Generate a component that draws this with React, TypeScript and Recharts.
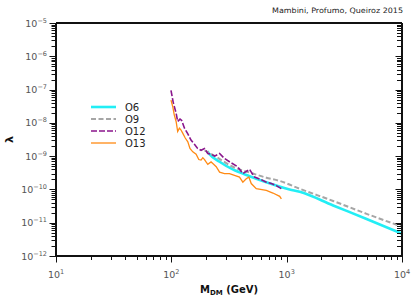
import React from 'react';
import { LineChart, Line, XAxis, YAxis, Legend, Label } from 'recharts';

// ---- data ----
const o6Mass = [205, 214, 262, 341, 477, 666, 1060, 1297, 2530, 4930, 10000];
const o6Lambda = [1.4e-9, 1.15e-9, 6.8e-10, 4.0e-10, 2.5e-10, 1.65e-10, 1.0e-10, 8.5e-11, 3.3e-11, 1.3e-11, 4.7e-12];

const o9Mass = [194, 245, 341, 510, 666, 870, 1297, 2530, 4930, 10000];
const o9Lambda = [1.5e-9, 9.5e-10, 4.8e-10, 3.0e-10, 2.25e-10, 1.8e-10, 1.05e-10, 4.5e-11, 1.85e-11, 7.6e-12];

const o12Mass = [99.3, 104, 110, 113.5, 119, 123, 130, 139, 148, 158, 169, 181, 194, 207, 221, 237, 262, 289, 330, 376, 417, 477, 502, 528, 604, 666, 736, 813, 900];
const o12Lambda = [9.5e-8, 4.0e-8, 1.95e-8, 1.1e-8, 1.29e-8, 1.18e-8, 6.9e-9, 4.7e-9, 3.05e-9, 2.3e-9, 1.7e-9, 1.5e-9, 1.7e-9, 1.2e-9, 1.15e-9, 1.0e-9, 1.2e-9, 8.5e-10, 6.3e-10, 4.8e-10, 3.0e-10, 4.0e-10, 3.0e-10, 2.35e-10, 1.95e-10, 1.65e-10, 1.5e-10, 1.3e-10, 1.05e-10];

const o13Mass = [99.3, 102.8, 106, 110, 113.5, 117.5, 121, 125.5, 132, 139, 145, 153.5, 164, 173, 181, 187.5, 194, 200, 207, 221, 229, 245, 262, 289, 319, 353, 390, 417, 446, 470, 493, 545, 666, 760, 870, 900];
const o13Lambda = [4.8e-8, 3.1e-8, 1.74e-8, 1.1e-8, 5.5e-9, 6.9e-9, 6.2e-9, 4.9e-9, 3.5e-9, 2.7e-9, 1.7e-9, 1.35e-9, 1.15e-9, 7.9e-10, 7.6e-10, 9.0e-10, 7.9e-10, 6.7e-10, 5.7e-10, 6.7e-10, 6.0e-10, 4.8e-10, 3.3e-10, 3.0e-10, 3.0e-10, 2.65e-10, 2.35e-10, 1.65e-10, 2.1e-10, 2.35e-10, 1.5e-10, 1.05e-10, 9.3e-11, 7.8e-11, 6.2e-11, 5.2e-11];

const seriesNames = ['O6', 'O9', 'O12', 'O13'];

const xMajorTicks = [10, 100, 1000, 10000];
const xDecades = [10, 100, 1000];
const yMajorTicks = [1e-12, 1e-11, 1e-10, 1e-9, 1e-8, 1e-7, 1e-6, 1e-5];
const yDecades = [1e-12, 1e-11, 1e-10, 1e-9, 1e-8, 1e-7, 1e-6];
const minorFactors = [2, 3, 4, 5, 6, 7, 8, 9];

const titleText = 'Mambini, Profumo, Queiroz 2015';

// ---- helpers ----
const toRows = (m: number[], l: number[]) => m.map((x, i) => ({ x, y: l[i] }));
const o6Rows = toRows(o6Mass, o6Lambda);
const o9Rows = toRows(o9Mass, o9Lambda);
const o12Rows = toRows(o12Mass, o12Lambda);
const o13Rows = toRows(o13Mass, o13Lambda);

const byValue = (a: number, b: number) => a - b;
const xAllTicks = [...xMajorTicks, ...xDecades.flatMap((d) => minorFactors.map((f) => d * f))].sort(byValue);
const yAllTicks = [...yMajorTicks, ...yDecades.flatMap((d) => minorFactors.map((f) => d * f))].sort(byValue);

const isMajor = (v: number) => {
  const lg = Math.log10(v);
  return Math.abs(lg - Math.round(lg)) < 1e-6;
};
const expOf = (v: number) => Math.round(Math.log10(v));
const expText = (e: number) => (e < 0 ? '\u2212' + Math.abs(e) : String(e));

const FONT = 'DejaVu Sans';
const TICK_COLOR = '#111';
const LABEL_COLOR = '#555';

const styles = [
  { name: seriesNames[0], color: '#22eef5', width: 2.6, dash: undefined as string | undefined },
  { name: seriesNames[1], color: '#a6a6a6', width: 2, dash: '5 2.5' },
  { name: seriesNames[2], color: '#8a168c', width: 1.6, dash: '6 2' },
  { name: seriesNames[3], color: '#ff8a14', width: 1.3, dash: undefined as string | undefined },
];

// with tickSize=0 and tickMargin=0 the tick's x/y is the point on the axis line
const LeftTick = (props: any) => {
  const { x, y, payload } = props;
  const v = payload.value;
  const major = isMajor(v);
  const yy = Math.round(y) + 0.5;
  return (
    <g>
      <line x1={x} x2={x - (major ? 6.5 : 4.5)} y1={yy} y2={yy} stroke={TICK_COLOR} strokeWidth={1} />
      {major && (
        <text x={x - 9} y={y + 3.5} textAnchor="end" fontSize={9.5} fill={LABEL_COLOR} fontFamily={FONT}>
          10
          <tspan dy={-4} fontSize={6.5}>{expText(expOf(v))}</tspan>
        </text>
      )}
    </g>
  );
};

const RightTick = (props: any) => {
  const { x, y, payload } = props;
  const major = isMajor(payload.value);
  const yy = Math.round(y) + 0.5;
  return <line x1={x} x2={x - (major ? 6.5 : 5)} y1={yy} y2={yy} stroke={TICK_COLOR} strokeWidth={1} />;
};

const BottomTick = (props: any) => {
  const { x, y, payload } = props;
  const v = payload.value;
  const major = isMajor(v);
  const xx = Math.round(x) + 0.5;
  return (
    <g>
      <line x1={xx} x2={xx} y1={y} y2={y + (major ? 6.5 : 4)} stroke={TICK_COLOR} strokeWidth={1} />
      {major && (
        <text x={x} y={y + 22} textAnchor="middle" fontSize={9.5} fill={LABEL_COLOR} fontFamily={FONT}>
          10
          <tspan dy={-4} fontSize={6.5}>{expText(expOf(v))}</tspan>
        </text>
      )}
    </g>
  );
};

const XLabel = (props: any) => {
  const vb = props.viewBox || { x: 56, y: 256, width: 346, height: 47 };
  return (
    <text x={vb.x + vb.width / 2} y={vb.y + 36.5} textAnchor="middle" fontSize={10} fontWeight="bold" fill="#111" fontFamily={FONT}>
      M
      <tspan fontSize={7} dy={2}>DM</tspan>
      <tspan dy={-2}> (GeV)</tspan>
    </text>
  );
};

const YLabel = (props: any) => {
  const vb = props.viewBox || { x: 0, y: 23, width: 56, height: 233 };
  const cx = 9.5;
  const cy = vb.y + vb.height / 2;
  return (
    <text x={cx} y={cy} transform={`rotate(-90, ${cx}, ${cy})`} textAnchor="middle" dominantBaseline="central" fontSize={11} fontWeight="bold" fill="#111" fontFamily={FONT}>
      λ
    </text>
  );
};

const TitleLabel = (props: any) => {
  const vb = props.viewBox || { x: 56, y: 22, width: 346, height: 1 };
  return (
    <text x={vb.x + vb.width + 1} y={vb.y - 9.5} textAnchor="end" fontSize={7.4} fill="#222" fontFamily={FONT} textLength={131} lengthAdjust="spacingAndGlyphs">
      {titleText}
    </text>
  );
};

const LegendContent = () => (
  <svg width={70} height={52}>
    {styles.map((s, i) => (
      <g key={s.name}>
        <line x1={3} x2={28} y1={7 + 12 * i} y2={7 + 12 * i} stroke={s.color} strokeWidth={s.width} strokeDasharray={s.dash} />
        <text x={37} y={7 + 12 * i + 3.6} fontSize={10} fill="#222" fontFamily={FONT}>
          {s.name}
        </text>
      </g>
    ))}
  </svg>
);

export default function App() {
  const rows = [o6Rows, o9Rows, o12Rows, o13Rows];
  return (
    <div style={{ position: 'absolute', left: 0, top: 0, fontFamily: FONT }}>
      <LineChart width={415} height={303} margin={{ top: 22, right: 12, bottom: 0, left: 0 }}>
        <XAxis
          xAxisId="bottom"
          dataKey="x"
          type="number"
          scale="log"
          domain={[10, 10000]}
          allowDataOverflow
          ticks={xAllTicks}
          interval={0}
          tickSize={0}
          tickMargin={0}
          tickLine={false}
          tick={<BottomTick />}
          height={47}
          axisLine={{ stroke: '#111', strokeWidth: 2 }}
        >
          <Label content={<XLabel />} />
        </XAxis>
        <XAxis
          xAxisId="top"
          orientation="top"
          type="number"
          scale="log"
          domain={[10, 10000]}
          allowDataOverflow
          ticks={[]}
          tick={false}
          tickLine={false}
          height={1}
          axisLine={{ stroke: '#111', strokeWidth: 2 }}
        >
          <Label content={<TitleLabel />} />
        </XAxis>
        <YAxis
          yAxisId="left"
          type="number"
          scale="log"
          domain={[1e-12, 1e-5]}
          allowDataOverflow
          ticks={yAllTicks}
          interval={0}
          tickSize={0}
          tickMargin={0}
          tickLine={false}
          tick={<LeftTick />}
          width={56}
          axisLine={{ stroke: '#111', strokeWidth: 2 }}
        >
          <Label content={<YLabel />} />
        </YAxis>
        <YAxis
          yAxisId="right"
          orientation="right"
          type="number"
          scale="log"
          domain={[1e-12, 1e-5]}
          allowDataOverflow
          ticks={yAllTicks}
          interval={0}
          tickSize={0}
          tickMargin={0}
          tickLine={false}
          tick={<RightTick />}
          width={1}
          axisLine={{ stroke: '#111', strokeWidth: 2 }}
        />
        {styles.map((s, i) => (
          <Line
            key={s.name}
            name={s.name}
            data={rows[i]}
            dataKey="y"
            xAxisId="bottom"
            yAxisId="left"
            type={i < 2 ? 'monotone' : 'linear'}
            stroke={s.color}
            strokeWidth={s.width}
            strokeDasharray={s.dash}
            dot={false}
            activeDot={false}
            isAnimationActive={false}
          />
        ))}
        <Legend
          layout="vertical"
          align="center"
          verticalAlign="middle"
          content={<LegendContent />}
          wrapperStyle={{ position: 'absolute', left: 88, top: 100, width: 70, height: 52 }}
        />
      </LineChart>
    </div>
  );
}
